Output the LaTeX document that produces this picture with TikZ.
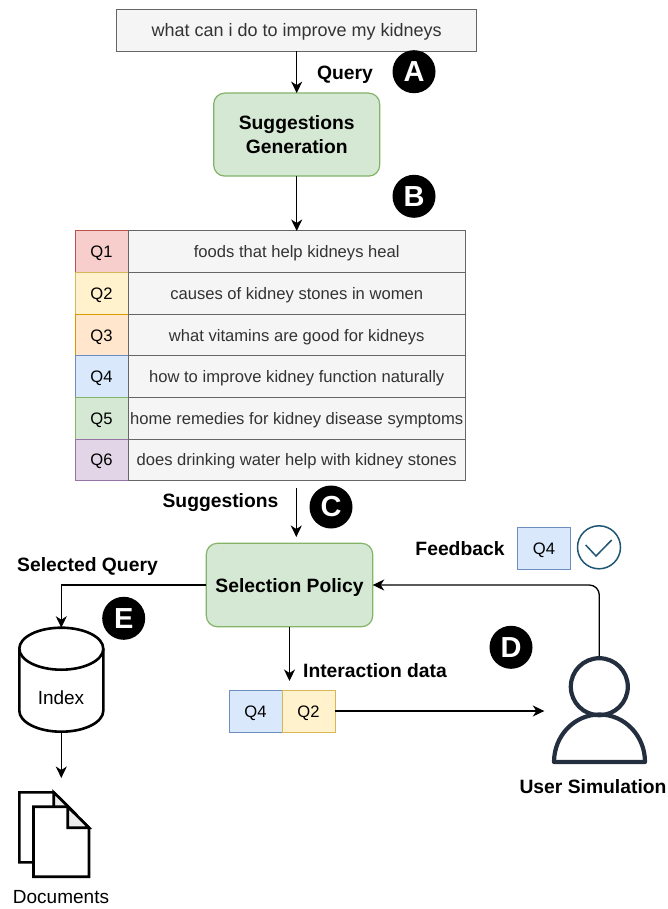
\documentclass[tikz,border=0pt]{standalone}
\usepackage{fontspec}
\setmainfont{Liberation Sans}
\usepackage{tikz}
\usetikzlibrary{arrows.meta,positioning}

\definecolor{grayfill}{HTML}{F5F5F5}
\definecolor{grayline}{HTML}{666666}
\definecolor{greenfill}{HTML}{D5E8D4}
\definecolor{greenline}{HTML}{82B366}
\definecolor{redfill}{HTML}{F8CECC}
\definecolor{redline}{HTML}{B85450}
\definecolor{yellowfill}{HTML}{FFF2CC}
\definecolor{yellowline}{HTML}{D6B656}
\definecolor{orangefill}{HTML}{FFE6CC}
\definecolor{orangeline}{HTML}{D79B00}
\definecolor{bluefill}{HTML}{DAE8FC}
\definecolor{blueline}{HTML}{6C8EBF}
\definecolor{purplefill}{HTML}{E1D5E7}
\definecolor{purpleline}{HTML}{9673A6}
\definecolor{usercolor}{HTML}{232F3E}
\definecolor{checkcolor}{HTML}{1F5673}

\begin{document}
\begin{tikzpicture}[x=1pt,y=-1pt,->,>={Stealth[length=11.5pt,width=11pt,inset=3.5pt]},line width=1.3pt,node distance=41.6pt,
	plaintext/.style={inner sep=0pt,font=\fontsize{19}{23}\selectfont},
	qbox/.style={draw,rectangle,line width=1pt,outer sep=0pt,minimum width=53pt,minimum height=41.6pt,text height=12pt,text depth=0pt,inner sep=0pt,font=\fontsize{16.6}{20}\selectfont},
	textbox/.style={draw=grayline,fill=grayfill,rectangle,line width=1pt,outer sep=0pt,minimum width=337.3pt,minimum height=41.6pt,text height=12pt,text depth=0pt,inner sep=0pt,text=black!80,font=\fontsize{16.6}{20}\selectfont},
	process/.style={draw=greenline,fill=greenfill,rectangle,rounded corners=11pt,line width=1.2pt,outer sep=0pt,align=center,font=\fontsize{19.3}{23.5}\selectfont\bfseries},
	badge/.style={circle,fill=black,text=white,minimum size=43pt,inner sep=0pt,font=\fontsize{29}{29}\selectfont\bfseries},
	caption/.style={font=\fontsize{19.3}{23}\selectfont\bfseries,inner sep=0pt},
	qblue/.style={qbox,draw=blueline,fill=bluefill},
	qyellow/.style={qbox,draw=yellowline,fill=yellowfill}]
	\useasboundingbox (0,0) rectangle (668,909);

	\node[textbox,minimum width=359.5pt,text height=13pt,font=\fontsize{18}{22}\selectfont]	(query)		at (296.7,30.4)		{what can i do to improve my kidneys};
	\node[process,minimum width=166pt,minimum height=83pt]						(gen)		at (296.7,134.6)	{Suggestions\\Generation};

	\node[qbox,draw=redline,fill=redfill]										(q1)		at (101.5,251.8)	{Q1};
	\node[qyellow]																(q2)		[below of=q1]		{Q2};
	\node[qbox,draw=orangeline,fill=orangefill]									(q3)		[below of=q2]		{Q3};
	\node[qblue]																(q4)		[below of=q3]		{Q4};
	\node[qbox,draw=greenline,fill=greenfill]									(q5)		[below of=q4]		{Q5};
	\node[qbox,draw=purpleline,fill=purplefill]									(q6)		[below of=q5]		{Q6};

	\node[textbox]																(s1)		at (296.7,251.8)	{foods that help kidneys heal};
	\node[textbox]																(s2)		[below of=s1]		{causes of kidney stones in women};
	\node[textbox]																(s3)		[below of=s2]		{what vitamins are good for kidneys};
	\node[textbox]																(s4)		[below of=s3]		{how to improve kidney function naturally};
	\node[textbox]																(s5)		[below of=s4]		{home remedies for kidney disease symptoms};
	\node[textbox]																(s6)		[below of=s5]		{does drinking water help with kidney stones};

	\node[process,minimum width=166.4pt,minimum height=83.4pt,text height=14pt,text depth=0pt]	(policy)	at (289.5,585)		{Selection Policy};
	\node[qblue,minimum height=42pt]											(run1)		at (255.5,711)		{Q4};
	\node[qyellow,minimum height=42pt]											(run2)		[right of=run1,node distance=53pt]	{Q2};
	\node[qblue,minimum height=42pt]											(fbq)		at (544,548)		{Q4};
	\node[circle,draw=checkcolor,line width=1.5pt,minimum size=43pt]			(fbok)		at (599,547.3)		{};
	\draw[-,draw=checkcolor,line width=1.5pt] (585.7,545) -- (596,556) -- (611.7,540);

	% index
	\draw[-,line width=2.6pt,fill=white] (19.3,648.7) arc[start angle=180,end angle=0,x radius=42pt,y radius=21pt] -- (103.3,710.7) arc[start angle=0,end angle=-180,x radius=42pt,y radius=21pt] -- cycle;
	\draw[-,line width=2.6pt] (19.3,648.7) arc[start angle=180,end angle=360,x radius=42pt,y radius=21pt];
	\node[minimum width=84pt,minimum height=104pt,inner sep=0pt,outer sep=0pt]	(index)		at (61.3,679.7)		{};
	\node[plaintext]															(indextext)	at (61,698)			{Index};

	% documents
	\draw[-,line width=2.6pt,fill=white] (19.3,792.3) -- (53.7,792.3) -- (75,813.5) -- (75,862.3) -- (19.3,862.3) -- cycle;
	\draw[-,line width=2.6pt,fill=black!7] (53.7,792.3) -- (53.7,813.5) -- (75,813.5) -- cycle;
	\draw[-,line width=2.6pt,fill=white] (33.5,806.7) -- (67.7,806.7) -- (89,827.7) -- (89,876.7) -- (33.5,876.7) -- cycle;
	\draw[-,line width=2.6pt,fill=black!7] (67.7,806.7) -- (67.7,827.7) -- (89,827.7) -- cycle;
	\coordinate (docs) at (61.3,778);
	\node[plaintext]															(docstext)	at (61,897.5)		{Documents};

	% user
	\node[circle,draw=usercolor,line width=4.2pt,minimum size=57pt,inner sep=0pt,outer sep=2pt]	(userhead)	at (599.3,686.7)	{};
	\draw[-,draw=usercolor,line width=4.2pt,line join=round] (554,762) arc[start angle=180,end angle=0,x radius=45.5pt,y radius=47.5pt] -- cycle;
	\coordinate (userin) at (544.3,711);

	\coordinate (sugstart) at (296.3,488);
	\coordinate (sugend) at (296.3,537);
	\coordinate (runtop) at (289.5,681);

	\node[badge]	(a)		at (414,71.7)		{A};
	\node[badge]	(b)		at (414,196.3)		{B};
	\node[badge]	(c)		at (331,507)		{C};
	\node[badge]	(d)		at (511,647.3)		{D};
	\node[badge]	(e)		at (123.7,618.3)	{E};

	\node[caption]	(lquery)	at (345,75)		{Query};
	\node[caption]	(lsugg)		at (220.5,503)	{Suggestions};
	\node[caption]	(lsel)		at (87.5,567)	{Selected Query};
	\node[caption]	(lfeed)		at (460,548.5)	{Feedback};
	\node[caption]	(lint)		at (375,670.5)	{Interaction data};
	\node[caption]	(luser)		at (593,786.5)	{User Simulation};

	\path
		(query)		edge	(gen)
		(gen)		edge	(s1.north -| gen)
		(sugstart)	edge	(sugend)
		(policy)	edge	(runtop)
		(run2)		edge	(userin)
		(index.south)	edge	(docs)
	;
	\draw (policy.west) -| (index.north);
	\draw[rounded corners=10pt] (userhead.north) |- (policy.east);
\end{tikzpicture}
\end{document}
